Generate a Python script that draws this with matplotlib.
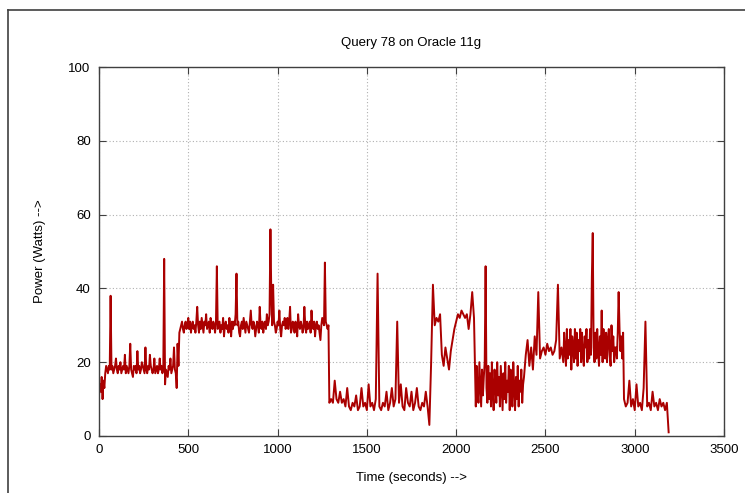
import numpy as np
import matplotlib.pyplot as plt
from matplotlib.lines import Line2D

plt.rcParams['font.family'] = ['Liberation Sans', 'DejaVu Sans']

# power readings split by phase: (start time, sample step in s, values)
seg_warmup = [11, 14, 12, 16, 10, 15, 13, 17, 19, 18,
              17, 19, 18, 38, 18, 19, 17, 18, 19, 21, 18, 17, 19, 18, 20, 17, 18, 19, 18, 22,
              17, 19, 18, 17, 19, 25, 18, 17, 16, 19, 18, 19, 17, 23, 18, 19, 17, 18, 20, 19,
              18, 17, 24, 18, 17, 19, 18, 22, 19, 18, 17, 18, 21, 17, 18, 19, 17, 18, 21, 18,
              19, 17, 18, 48, 14, 18, 17, 16, 19, 18, 21, 17, 18, 19, 24, 18, 17, 13, 25, 19]
seg_high = [28, 29, 30, 31, 29, 28, 30, 31, 29, 30, 32, 29, 31, 28, 30, 31, 29, 30, 28, 31,
            35, 30, 28, 31, 29, 32, 30, 28, 31, 30, 33, 29, 30, 31, 28, 32, 30, 29, 31, 30,
            28, 31, 46, 29, 30, 31, 28, 30, 29, 32, 27, 30, 31, 29, 30, 28, 32, 30, 27, 31,
            29, 31, 30, 33, 44, 30, 31, 28, 27, 30, 31, 29, 32, 30, 28, 31, 30, 29, 28, 31,
            34, 30, 29, 31, 30, 27, 29, 31, 30, 28, 35, 30, 29, 31, 28, 30, 31, 29, 33, 30,
            31, 33, 56, 38, 30, 41, 31, 30, 28, 29, 31, 30, 34, 29, 27, 30, 31, 30, 32, 29,
            30, 32, 29, 31, 35, 28, 29, 31, 30, 28, 31, 30, 27, 33, 30, 29, 31, 30, 28, 29,
            35, 30, 28, 31, 29, 30, 31, 28, 34, 30, 29, 31, 27, 30, 31, 29, 30, 28, 26, 30,
            32, 31, 30, 47, 31, 30, 29, 30]
seg_low1 = [9, 10, 9, 15, 10, 9, 12, 9, 10, 8, 13, 8, 7, 9, 8, 11, 7, 8, 13, 8,
            9, 7, 14, 8, 9, 7, 10, 44, 8, 7, 9, 8, 12, 7, 9, 13, 8, 10, 31, 9,
            14, 8, 7, 13, 9, 8, 12, 7, 9, 13, 8, 7, 9, 8, 12, 8, 3]
seg_mid = [20, 41, 30, 32, 31, 33, 22, 19, 24, 21, 18, 23, 26, 29, 31, 33, 32, 34, 33, 32,
           33, 29, 33, 39, 32]
seg_noisy = [8, 19, 12, 9, 20, 14, 8, 18, 11, 16, 20, 46, 13, 9, 19, 10, 17, 8, 20, 12,
             7, 18, 14, 9, 20, 11, 16, 8, 19, 13, 7, 17, 10, 20, 9, 15, 12, 19, 7, 18,
             11, 8, 20, 13, 7, 16, 10, 19, 8, 15, 12, 18, 9, 14]
seg_rise = [16, 22, 26, 19, 24, 18, 27, 22, 39, 21]
seg_flat = [23, 24, 22, 25, 23, 24, 22, 23, 26, 41, 21, 24]
seg_band = [20, 28, 23, 19, 29, 21, 26, 22, 29, 18, 27, 24, 20, 29, 21, 28, 19, 26, 23, 29,
            20, 28, 22, 19, 27, 24, 29, 20, 26, 21, 29, 22, 43, 55, 24, 20, 28, 21, 29, 23,
            19, 27, 22, 34, 20, 29, 24, 21, 28, 20, 26, 29, 22, 19, 30, 23, 27, 20, 24, 24,
            21, 28, 39, 29, 23, 27, 21, 28]
seg_low2 = [10, 8, 9, 15, 8, 10, 7, 14, 8, 9, 7, 13, 31, 8, 9, 7, 12, 8, 9, 7,
            10, 8, 9, 7, 9, 1]

segments = [(0, 5, seg_warmup), (450, 5, seg_high), (1290, 10, seg_low1),
            (1860, 10, seg_mid), (2110, 5, seg_noisy), (2380, 10, seg_rise),
            (2480, 10, seg_flat), (2600, 5, seg_band), (2940, 10, seg_low2)]

time = []
power = []
for start, step, vals in segments:
    time += [start + step * i for i in range(len(vals))]
    power += vals

fig = plt.figure(figsize=(7.45, 4.93), dpi=100)
ax = fig.add_axes([99/745, 57/493, 625/745, 369/493])

ax.plot(time, power, color='#aa0000', lw=1.4)

ax.set_xlim(0, 3500)
ax.set_ylim(0, 100)
ax.set_xticks(np.arange(0, 3501, 500))
ax.set_yticks(np.arange(0, 101, 20))
ax.grid(True, color='#b0b0b0', linestyle=(0, (1, 2)), lw=0.8)
ax.tick_params(direction='in', length=5, top=True, right=True, labelsize=9.5,
               color='#404040', pad=6)
for s in ax.spines.values():
    s.set_color('#404040')
    s.set_linewidth(1)

ax.set_title('Query 78 on Oracle 11g', fontsize=9.5, pad=15)
ax.set_xlabel('Time (seconds) -->', fontsize=9.5, labelpad=11)
ax.set_ylabel('Power (Watts) -->', fontsize=9.5, labelpad=16)

# outer frame visible on the left and top
fig.add_artist(Line2D([8/745, 8/745], [0, 1 - 10/493], color='#404040', lw=1.2))
fig.add_artist(Line2D([8/745, 1], [1 - 10/493, 1 - 10/493], color='#404040', lw=1.2))

fig.savefig('out.png', dpi=100)
